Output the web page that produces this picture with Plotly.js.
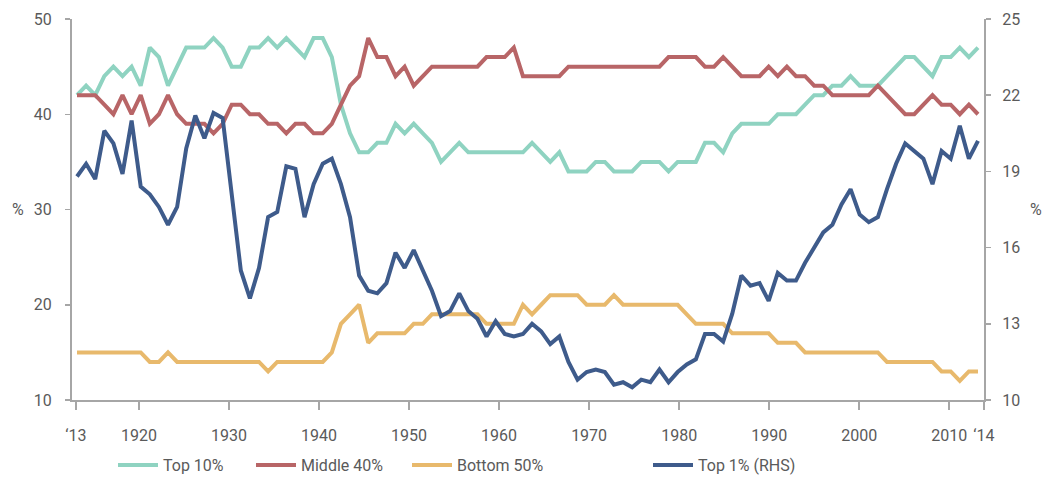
<!DOCTYPE html>
<html>
<head>
<meta charset="utf-8">
<script src="https://cdn.plot.ly/plotly-3.0.1.min.js"></script>
<style>
  html, body { margin: 0; padding: 0; background: #fff; }
  #chart { width: 1056px; height: 479px; }
</style>
</head>
<body>
<div id="chart"></div>
<script>
// income shares, % of national income
var years = [
  1913, 1914, 1915, 1916, 1917, 1918, 1919, 1920, 1921, 1922,
  1923, 1924, 1925, 1926, 1927, 1928, 1929, 1930, 1931, 1932,
  1933, 1934, 1935, 1936, 1937, 1938, 1939, 1940, 1941, 1942,
  1943, 1944, 1945, 1946, 1947, 1948, 1949, 1950, 1951, 1952,
  1953, 1954, 1955, 1956, 1957, 1958, 1959, 1960, 1961, 1962,
  1963, 1964, 1965, 1966, 1967, 1968, 1969, 1970, 1971, 1972,
  1973, 1974, 1975, 1976, 1977, 1978, 1979, 1980, 1981, 1982,
  1983, 1984, 1985, 1986, 1987, 1988, 1989, 1990, 1991, 1992,
  1993, 1994, 1995, 1996, 1997, 1998, 1999, 2000, 2001, 2002,
  2003, 2004, 2005, 2006, 2007, 2008, 2009, 2010, 2011, 2012
];

var top10 = [
  42, 43, 42, 44, 45, 44, 45, 43, 47, 46,
  43, 45, 47, 47, 47, 48, 47, 45, 45, 47,
  47, 48, 47, 48, 47, 46, 48, 48, 46, 41,
  38, 36, 36, 37, 37, 39, 38, 39, 38, 37,
  35, 36, 37, 36, 36, 36, 36, 36, 36, 36,
  37, 36, 35, 36, 34, 34, 34, 35, 35, 34,
  34, 34, 35, 35, 35, 34, 35, 35, 35, 37,
  37, 36, 38, 39, 39, 39, 39, 40, 40, 40,
  41, 42, 42, 43, 43, 44, 43, 43, 43, 44,
  45, 46, 46, 45, 44, 46, 46, 47, 46, 47
];

var middle40 = [
  42, 42, 42, 41, 40, 42, 40, 42, 39, 40,
  42, 40, 39, 39, 39, 38, 39, 41, 41, 40,
  40, 39, 39, 38, 39, 39, 38, 38, 39, 41,
  43, 44, 48, 46, 46, 44, 45, 43, 44, 45,
  45, 45, 45, 45, 45, 46, 46, 46, 47, 44,
  44, 44, 44, 44, 45, 45, 45, 45, 45, 45,
  45, 45, 45, 45, 45, 46, 46, 46, 46, 45,
  45, 46, 45, 44, 44, 44, 45, 44, 45, 44,
  44, 43, 43, 42, 42, 42, 42, 42, 43, 42,
  41, 40, 40, 41, 42, 41, 41, 40, 41, 40
];

var bottom50 = [
  15, 15, 15, 15, 15, 15, 15, 15, 14, 14,
  15, 14, 14, 14, 14, 14, 14, 14, 14, 14,
  14, 13, 14, 14, 14, 14, 14, 14, 15, 18,
  19, 20, 16, 17, 17, 17, 17, 18, 18, 19,
  19, 19, 19, 19, 19, 18, 18, 18, 18, 20,
  19, 20, 21, 21, 21, 21, 20, 20, 20, 21,
  20, 20, 20, 20, 20, 20, 20, 19, 18, 18,
  18, 18, 17, 17, 17, 17, 17, 16, 16, 16,
  15, 15, 15, 15, 15, 15, 15, 15, 15, 14,
  14, 14, 14, 14, 14, 13, 13, 12, 13, 13
];

// right hand scale
var top1 = [
  18.8, 19.3, 18.7, 20.6, 20.1, 18.9, 21.0, 18.4, 18.1, 17.6,
  16.9, 17.6, 19.9, 21.2, 20.3, 21.3, 21.1, 18.1, 15.1, 14.0,
  15.2, 17.2, 17.4, 19.2, 19.1, 17.2, 18.5, 19.3, 19.5, 18.5,
  17.2, 14.9, 14.3, 14.2, 14.6, 15.8, 15.2, 15.9, 15.1, 14.3,
  13.3, 13.5, 14.2, 13.5, 13.2, 12.5, 13.1, 12.6, 12.5, 12.6,
  13.0, 12.7, 12.2, 12.5, 11.5, 10.8, 11.1, 11.2, 11.1, 10.6,
  10.7, 10.5, 10.8, 10.7, 11.2, 10.7, 11.1, 11.4, 11.6, 12.6,
  12.6, 12.3, 13.4, 14.9, 14.5, 14.6, 13.9, 15.0, 14.7, 14.7,
  15.4, 16.0, 16.6, 16.9, 17.7, 18.3, 17.3, 17.0, 17.2, 18.3,
  19.3, 20.1, 19.8, 19.5, 18.5, 19.8, 19.5, 20.8, 19.5, 20.2
];

var tickYears = [1913, 1920, 1930, 1940, 1950, 1960, 1970, 1980, 1990, 2000, 2010, 2014];
var tickLabels = ["\u201813", "1920", "1930", "1940", "1950", "1960", "1970", "1980", "1990", "2000", "2010", "\u201814"];

var fontFam = "Roboto, sans-serif";
var grey = "#a6a6a6";
var textGrey = "#5a5a5a";

// the year ticks in the original sit on a slightly tighter grid than the points
var xMin = 1912.45, xMax = 2012.66;
var tickPos = tickYears.map(function(y) {
    var v = 1919.81 + (y - 1920) * 0.9892;
    return Math.min(Math.max(v, xMin + 0.3), xMax - 0.02);
});

function line(name, y, color, axis, legend) {
    return {
        x: years, y: y, name: name, type: "scatter", mode: "lines",
        yaxis: axis, legend: legend,
        line: {color: color, width: 4}
    };
}

var traces = [
    line("Top 10%", top10, "#8fd3c1", "y", "legend"),
    line("Middle 40%", middle40, "#b86567", "y", "legend2"),
    line("Bottom 50%", bottom50, "#e8b96c", "y", "legend3"),
    line("Top 1% (RHS)", top1, "#3e5b8b", "y2", "legend4")
];

function legendAt(px) {
    return {
        xref: "container", yref: "container",
        x: px / 1056, y: 1 - 465 / 479, yanchor: "middle",
        orientation: "h", itemwidth: 40, bgcolor: "rgba(0,0,0,0)",
        font: {family: fontFam, size: 16, color: textGrey}
    };
}

var axisBase = {
    showline: true, linecolor: grey, linewidth: 2,
    ticks: "outside", tickcolor: grey, tickwidth: 1.5,
    showgrid: false, zeroline: false,
    tickfont: {family: fontFam, size: 16, color: textGrey}
};

var layout = {
    width: 1056, height: 479,
    margin: {l: 72, r: 72, t: 19, b: 79},
    paper_bgcolor: "#fff", plot_bgcolor: "#fff",
    font: {family: fontFam, size: 16, color: textGrey},
    showlegend: true,
    xaxis: Object.assign({}, axisBase, {
        range: [xMin, xMax], tickmode: "array",
        tickvals: tickPos, ticktext: tickLabels, tickangle: 0,
        ticklen: 8, ticklabelstandoff: 12
    }),
    yaxis: Object.assign({}, axisBase, {
        range: [10, 50], tickvals: [10, 20, 30, 40, 50],
        ticklen: 5, ticklabelstandoff: 10
    }),
    yaxis2: Object.assign({}, axisBase, {
        range: [10, 25], tickvals: [10, 13, 16, 19, 22, 25],
        overlaying: "y", side: "right",
        ticklen: 5, ticklabelstandoff: 8
    }),
    legend: legendAt(113),
    legend2: legendAt(251),
    legend3: legendAt(407),
    legend4: legendAt(648),
    annotations: [
        {text: "%", xref: "paper", yref: "paper", x: -0.068, y: 0.5, showarrow: false,
         font: {family: fontFam, size: 16, color: textGrey}},
        {text: "%", xref: "paper", yref: "paper", x: 1.066, y: 0.5, showarrow: false,
         font: {family: fontFam, size: 16, color: textGrey}}
    ]
};

Plotly.newPlot("chart", traces, layout, {displayModeBar: false, staticPlot: true});
</script>
</body>
</html>
